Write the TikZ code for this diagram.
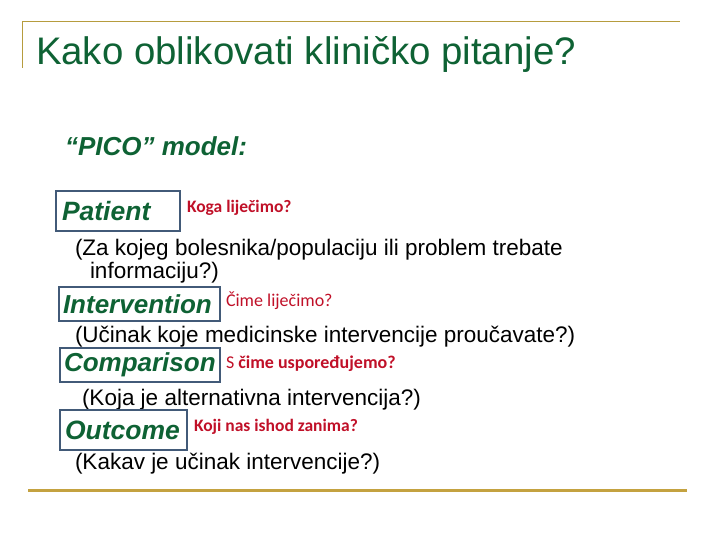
\documentclass[tikz,border=0pt]{standalone}
\usepackage{fontspec}
\setmainfont{Liberation Sans}
\newfontfamily\askfont{Carlito}
\usetikzlibrary{positioning}

\definecolor{picogreen}{RGB}{14,98,52}
\definecolor{boxblue}{RGB}{66,90,120}
\definecolor{askred}{RGB}{192,16,40}
\definecolor{rulegold}{RGB}{182,156,62}
\definecolor{rulegoldb}{RGB}{196,162,64}

\begin{document}
\begin{tikzpicture}[x=1pt,y=-1pt,
	every node/.style={inner sep=0pt,outer sep=0pt},
	pbox/.style={draw=boxblue,line width=2.5pt,anchor=north west,inner xsep=6pt,
		align=left,text=picogreen,font=\fontsize{26.5}{30}\selectfont\bfseries\itshape},
	ask/.style={anchor=base west,text=askred,font=\askfont\fontsize{18}{21}\selectfont},
	askb/.style={ask,font=\askfont\fontsize{17.5}{21}\selectfont\bfseries},
	note/.style={anchor=base west,font=\fontsize{22.5}{26}\selectfont}]

	\useasboundingbox (0,0) rectangle (720,540);

	% slide frame
	\coordinate (TL) at (22,68);
	\coordinate (TC) at (22,22);
	\coordinate (TR) at (680,22);
	\draw[rulegold,line width=1pt] (TL) -- (TC) -- (TR);
	\coordinate (BL) at (28,490.5);
	\coordinate (BR) at (687,490.5);
	\draw[rulegoldb,line width=3pt] (BL) -- (BR);

	\node (TITLE) [anchor=base west,text=picogreen,font=\fontsize{38.4}{44}\selectfont]
		at (36,65) {Kako oblikovati kliničko pitanje?};
	\node (PICO) [anchor=base west,text=picogreen,font=\fontsize{26}{30}\selectfont\bfseries\itshape]
		at (65,156) {“PICO” model:};

	% P
	\node[pbox,text width=112pt,minimum height=40pt]	(P)	at (56,191)	{Patient};
	\node[askb]	(Pq)	at (187,213)	{Koga liječimo?};
	\node[note]	(Pn)	at (75,255)	{(Za kojeg bolesnika/populaciju ili problem trebate};
	\node[note]	(Pn2)	at (90,278)	{informaciju?)};

	% I
	\node[pbox,inner xsep=4pt,text width=153pt,minimum height=34pt,
		font=\fontsize{26}{30}\selectfont\bfseries\itshape]	(I)	at (59,287)	{Intervention};
	\node[ask]	(Iq)	at (226,306)	{Čime liječimo?};
	\node[note]	(In)	at (75,342)	{(Učinak koje medicinske intervencije proučavate?)};

	% C
	\node[pbox,inner xsep=4pt,text width=152pt,minimum height=34pt,
		font=\fontsize{26}{30}\selectfont\bfseries\itshape]	(C)	at (60,348)	{Comparison};
	\node[ask]	(Cq)	at (226,368)	{S \textbf{čime uspoređujemo?}};
	\node[note]	(Cn)	at (82,405)	{(Koja je alternativna intervencija?)};

	% O
	\node[pbox,inner xsep=5pt,text width=117pt,minimum height=40pt]	(O)	at (60,410)	{Outcome};
	\node[askb]	(Oq)	at (194,431)	{Koji nas ishod zanima?};
	\node[note]	(On)	at (75,469)	{(Kakav je učinak intervencije?)};

\end{tikzpicture}
\end{document}
